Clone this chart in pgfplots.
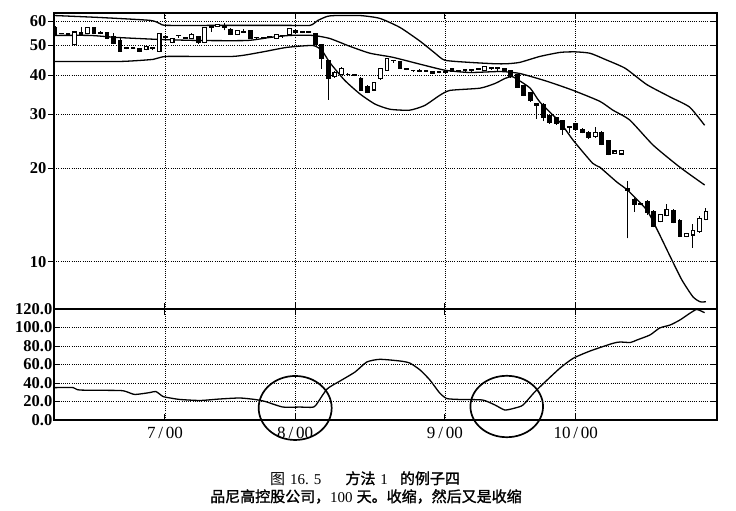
\documentclass[border=0pt]{standalone}
\usepackage{fontspec}
\setmainfont{Liberation Serif}
\newfontfamily\cjk{Noto Sans CJK SC}
\newfontfamily\cjkb{Noto Sans CJK SC}[FakeBold=1.4]
\usepackage{pgfplots}
\usepackage{pgfplotstable}
\pgfplotsset{compat=1.18}

% daily bars: day, open, high, low, close
\pgfplotstableread{
i o h l c
1 57.3 58.0 53.8 54.2
2 54.8 55.0 54.4 54.5
3 54.6 54.8 53.8 54.0
4 50.3 55.6 50.1 55.3
5 55.0 57.5 54.2 54.4
6 54.6 57.6 54.4 57.3
7 57.3 57.5 54.4 54.6
8 54.6 55.6 54.4 55.0
9 55.0 55.3 52.3 52.6
10 53.3 55.0 50.5 50.7
11 51.9 52.8 47.6 47.8
12 48.8 49.6 48.6 49.4
13 49.1 49.5 48.7 48.9
14 48.8 49.0 47.6 47.9
15 48.4 49.8 48.2 49.6
16 49.4 49.6 48.2 49.0
17 47.8 54.8 47.6 54.6
18 53.5 53.7 52.4 53.2
19 51.3 52.9 50.8 52.6
20 54.0 54.2 53.0 53.7
21 52.8 53.2 52.7 53.0
22 52.6 54.8 52.4 54.2
23 53.3 53.6 50.6 51.0
24 51.0 57.2 50.8 57.0
25 57.6 57.8 55.5 57.2
26 57.6 58.8 57.4 58.3
27 57.8 59.0 56.0 57.4
28 56.5 56.8 54.0 54.2
29 54.2 56.2 54.0 56.0
30 55.0 56.4 54.8 55.5
31 56.0 56.3 52.4 52.6
32 53.2 53.4 52.6 52.9
33 53.1 53.3 52.6 52.8
34 53.4 53.6 52.8 53.1
35 52.6 54.4 52.4 54.2
36 54.0 54.1 53.0 53.8
37 54.2 56.9 54.0 56.7
38 55.3 56.4 55.1 56.0
39 55.0 55.9 54.8 55.6
40 55.4 55.8 54.8 55.0
41 54.6 55.0 50.1 50.3
42 50.3 50.5 42.0 45.3
43 44.7 45.0 33.4 39.0
44 39.6 41.5 39.3 41.0
45 40.2 42.5 40.0 42.0
46 40.4 40.6 40.0 40.2
47 40.2 40.4 39.8 40.0
48 39.2 39.5 35.7 35.9
49 36.9 37.2 35.1 35.3
50 35.9 38.2 35.7 38.0
51 39.2 42.2 38.8 42.0
52 41.6 45.5 41.4 45.3
53 44.8 44.9 44.0 44.6
54 44.3 44.5 42.0 42.2
55 42.2 42.4 41.6 41.8
56 41.6 41.7 40.9 41.4
57 41.1 41.9 41.0 41.4
58 41.2 41.8 41.1 41.4
59 41.3 41.5 40.3 40.5
60 40.8 41.3 40.6 41.1
61 41.0 41.5 40.8 41.3
62 42.0 42.2 41.1 41.3
63 41.5 41.6 41.0 41.2
64 41.7 41.8 40.9 41.5
65 41.7 41.8 40.9 41.5
66 42.2 42.4 41.7 41.9
67 41.6 42.9 41.4 42.7
68 42.3 42.5 41.8 42.0
69 42.3 42.4 41.5 42.1
70 42.0 42.2 41.3 41.5
71 41.5 41.8 39.4 39.6
72 40.2 40.4 36.5 36.7
73 37.0 37.2 34.3 34.5
74 35.3 35.5 32.9 33.1
75 32.4 32.6 29.0 32.0
76 32.3 32.5 28.5 29.2
77 29.6 29.8 27.9 28.1
78 29.2 29.4 27.7 27.9
79 28.5 28.7 25.7 26.8
80 27.4 27.5 26.0 27.1
81 27.9 28.1 26.6 26.8
82 26.8 27.0 26.0 26.2
83 26.2 26.4 25.0 25.2
84 25.4 27.3 25.2 26.2
85 26.2 26.4 23.8 24.0
86 24.6 24.8 22.1 22.3
87 22.4 22.9 22.3 22.8
88 22.3 23.0 22.1 22.9
89 17.2 18.2 11.9 17.0
90 15.9 16.1 14.5 15.3
91 15.4 15.5 15.2 15.3
92 15.6 15.8 14.2 14.4
93 14.5 14.7 12.9 13.0
94 13.5 14.3 13.4 14.2
95 14.1 15.4 14.0 14.7
96 14.6 14.8 13.3 13.4
97 13.6 13.7 12.0 12.1
98 12.1 12.4 12.0 12.3
99 12.2 13.2 11.1 12.6
100 12.5 14.0 12.4 13.8
101 13.7 14.9 13.6 14.5
}\candles

\pgfplotstableread{
i p
1.0 62.5
7.9 61.6
15.6 60.3
17.1 58.9
18.2 58.1
27.9 58.1
36.6 58.1
40.2 58.1
41.4 60.3
42.8 62.1
44.0 62.5
47.9 62.5
50.9 61.2
54.0 57.2
57.1 51.6
59.4 47.2
60.9 44.8
64.7 44.1
68.6 43.65
70.4 43.65
72.4 44.1
75.5 46.1
78.6 47.5
80.9 47.7
83.2 47.2
85.5 45.1
88.6 42.2
91.9 37.4
95.6 34.0
98.5 31.6
100.8 27.6
}\upperband

\pgfplotstableread{
i p
1.0 53.9
6.4 53.9
10.5 53.1
17.1 52.3
23.3 51.9
30.5 51.9
34.0 53.1
37.1 53.9
40.6 53.9
43.2 52.7
46.3 49.7
49.4 47.2
52.9 45.8
57.1 43.5
60.9 41.6
64.7 40.9
69.4 41.2
72.4 40.6
76.6 38.3
80.6 35.8
84.7 33.0
86.7 30.9
89.3 28.7
92.9 23.8
97.0 20.2
100.8 17.7
}\midband

\pgfplotstableread{
i p
1.0 44.4
11.0 44.4
16.1 45.1
18.2 46.1
28.3 46.1
32.5 47.5
36.6 49.3
40.6 50.0
42.0 48.2
43.2 44.1
45.5 38.6
47.9 34.8
50.2 32.3
52.5 31.1
55.5 30.9
57.8 32.0
60.1 34.5
61.7 35.8
66.3 36.4
68.6 37.7
70.1 39.1
71.2 39.7
72.0 38.9
74.0 36.4
75.5 32.8
78.6 28.2
80.6 24.7
83.6 20.8
84.7 20.2
87.3 18.1
89.0 17.0
91.9 14.7
93.5 12.7
95.5 10.4
97.3 8.73
99.0 7.70
100.1 7.42
101.0 7.42
}\lowerband

\pgfplotstableread{
i v
1.0 35
3.8 35
4.8 32.4
11.0 31.9
12.1 30.3
13.3 27.6
15.6 29.7
16.5 30.8
17.6 25.4
18.7 23.8
20.2 22.2
23.3 21.1
26.3 22.7
29.4 23.8
31.7 22.2
33.3 20.0
36.0 14.0
38.6 14.0
40.5 13.7
41.1 16.2
42.8 33.5
44.8 42.2
47.1 51.9
48.9 62.7
50.9 65.6
54.0 63.8
55.5 61.6
57.1 54.0
58.6 43.2
60.1 29.2
61.2 23.2
63.2 22.2
66.7 21.6
68.6 16.2
70.1 10.8
71.7 13.0
72.9 16.2
74.7 30.3
76.6 43.2
78.6 56.2
80.6 66.7
83.2 74.6
86.7 82.9
87.8 84.3
89.4 83.8
90.4 86.5
92.4 91.9
93.9 99.5
95.5 102.7
97.0 108.1
98.6 115.7
99.6 119.5
100.8 116.0
}\bwidth

\pgfplotsset{
  panel/.style={
    scale only axis, width=663pt,
    xmin=0.85, xmax=102.7,
    xtick={17.9,37.9,60.9,81.0},
    xtick pos=both,
    axis line style={line width=1.5pt},
    grid=major,
    grid style={black, line width=0.6pt, dash pattern=on 0.9pt off 1.3pt},
    major tick length=6pt,
    tick style={black, line width=1pt},
    tick align=inside,
    yticklabel style={font=\fontsize{16.5}{17}\selectfont\bfseries, inner sep=1.5pt},
    xticklabel style={font=\fontsize{17}{18}\selectfont, yshift=-4pt},
    /pgf/number format/assume math mode=true,
  },
  bandline/.style={black, line width=1.3pt, smooth, tension=0.35, mark=none},
  barseg/.style={only marks, mark=none, mark size=0pt,
    mark options={draw=none, fill=none}, forget plot},
}

\begin{document}
\begin{tikzpicture}[x=1pt,y=1pt]
\path[use as bounding box] (0,0) rectangle (736,-511);

\begin{axis}[panel, at={(54pt,-13pt)}, anchor=north west, height=296pt,
  ymode=log, ymin=7.03, ymax=63.7,
  ytick={10,20,30,40,50,60}, yticklabels={10,20,30,40,50,60},
  xticklabels={},
  ytick pos=left, ytick align=outside,
  extra y ticks={10,20,30,40,50,60}, extra y tick labels={},
  extra y tick style={ytick pos=right, ytick align=inside, grid=none}]
\addplot[bandline] table[x=i,y=p] {\upperband};
\addplot[bandline] table[x=i,y=p] {\midband};
\addplot[bandline] table[x=i,y=p] {\lowerband};
% wicks
\addplot[barseg, error bars/.cd, y dir=plus, y explicit,
  error mark=none, error bar style={black, line width=0.9pt}]
  table[x=i, y=l, y error plus expr=\thisrow{h}-\thisrow{l}] {\candles};
% bodies
\addplot[barseg, error bars/.cd, y dir=plus, y explicit,
  error mark=none, error bar style={black, line width=4.8pt}]
  table[x=i, y expr={min(\thisrow{o},\thisrow{c})},
        y error plus expr={abs(\thisrow{c}-\thisrow{o})}] {\candles};
% hollow bodies for up days
\addplot[barseg,
  restrict expr to domain={\thisrow{c}-\thisrow{o}}{0.01:100},
  error bars/.cd, y dir=plus, y explicit,
  error mark=none, error bar style={white, line width=2.6pt}]
  table[x=i, y=o, y error plus expr=\thisrow{c}-\thisrow{o}] {\candles};
% open and close edges
\addplot[only marks, mark=-, mark size=2.4pt, mark options={black, line width=1.1pt}]
  table[x=i, y=o] {\candles};
\addplot[only marks, mark=-, mark size=2.4pt, mark options={black, line width=1.1pt}]
  table[x=i, y=c] {\candles};
\end{axis}

\begin{axis}[panel, at={(54pt,-309pt)}, anchor=north west, height=111pt,
  ymin=0, ymax=120, ytick={0,20,...,120},
  yticklabels={0.0,20.0,40.0,60.0,80.0,100.0,120.0},
  xticklabels={7\,/\,00,8\,/\,00,9\,/\,00,10\,/\,00},
  ytick pos=both, clip=false]
\addplot[bandline] table[x=i,y=v] {\bwidth};
\draw[line width=1.7pt] (axis cs:37.9,13) ellipse [x radius=36.5pt, y radius=32pt];
\draw[line width=1.7pt] (axis cs:70.4,14.6) ellipse [x radius=36.3pt, y radius=30.7pt];
\end{axis}

\node[anchor=base west, inner sep=0pt, font=\fontsize{15}{17}\selectfont] at (270,-484)
  {{\cjk 图}\hspace{5pt}16.\hspace{5pt}5\hspace{24pt}{\cjkb 方法}\hspace{5pt}1\hspace{12pt}{\cjkb 的例子四}};
\node[anchor=base west, inner sep=0pt, font=\fontsize{15}{17}\selectfont] at (210,-502)
  {{\cjkb 品尼高控股公司，}100\hspace{4pt}{\cjkb 天。收缩，然后又是收缩}};
\end{tikzpicture}
\end{document}
